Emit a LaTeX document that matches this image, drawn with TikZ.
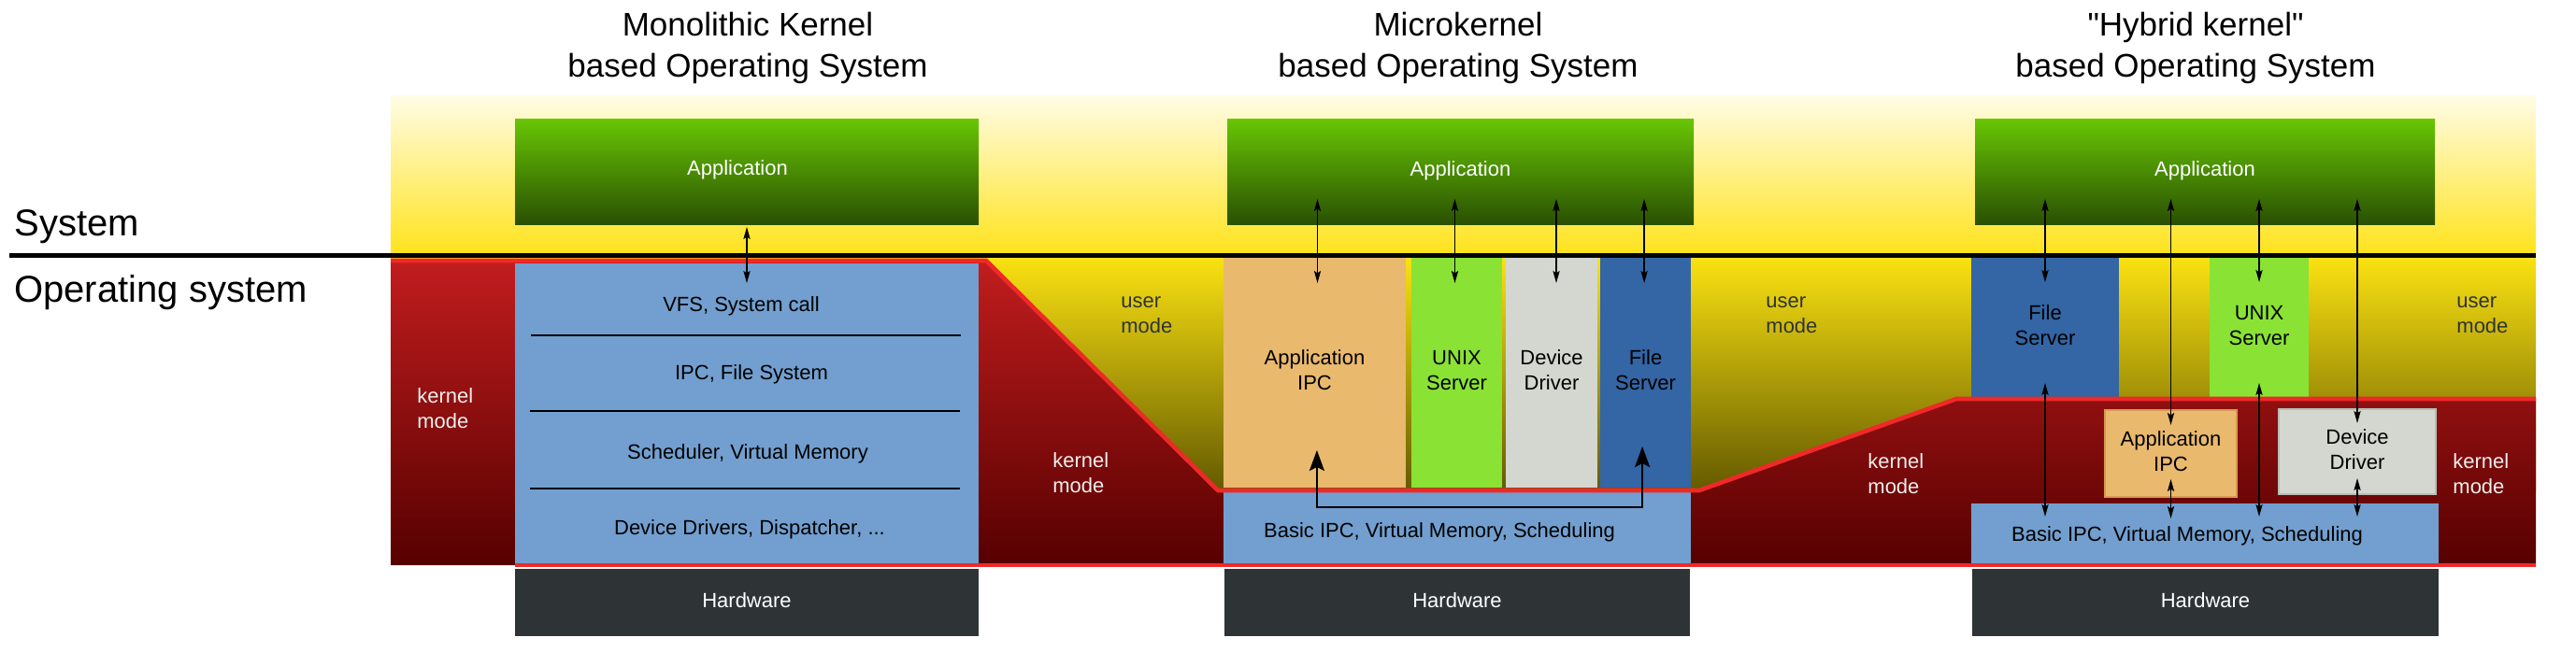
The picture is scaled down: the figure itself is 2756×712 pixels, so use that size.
\documentclass[tikz,border=0pt]{standalone}
\usepackage{fontspec}
\setmainfont{Liberation Sans}[Ligatures=TeXOff]
\usetikzlibrary{arrows.meta,calc}

\definecolor{redline}{HTML}{EF2929}
\definecolor{skyblue}{HTML}{729FCF}
\definecolor{fsblue}{HTML}{3465A4}
\definecolor{limegreen}{HTML}{8AE234}
\definecolor{alugray}{HTML}{D3D7CF}
\definecolor{tanbox}{HTML}{E9B96E}
\definecolor{tanedge}{HTML}{D49A52}
\definecolor{aluedge}{HTML}{BABDB6}
\definecolor{hwgray}{HTML}{2E3436}
\definecolor{ytop}{HTML}{FFFCE6}
\definecolor{ybot}{HTML}{FFE31B}
\definecolor{utop}{HTML}{FCE312}
\definecolor{ubot}{HTML}{645A00}
\definecolor{ktop}{HTML}{C21D1E}
\definecolor{kbot}{HTML}{560000}
\definecolor{gtop}{HTML}{68C604}
\definecolor{gbot}{HTML}{2A5003}
\definecolor{usertext}{HTML}{2E3436}
\definecolor{kerneltext}{HTML}{EEEEEC}

\newcommand\smallf{\fontsize{11}{13.5}\selectfont}
\newcommand\titlef{\fontsize{17.5}{21.75}\selectfont}
\newcommand\bigf{\fontsize{20}{24}\selectfont}

% box: name, x1, y1, x2, y2, style, text
\newcommand\mkbox[7]{\node[box,#6,minimum width={(#4-#2)*0.5pt},minimum height={(#5-#3)*0.5pt}] (#1) at ({(#2+#4)/2},{(#3+#5)/2}) {#7};}

\tikzset{
  box/.style={inner sep=0pt, outer sep=0pt, font=\smallf, align=center},
  appbox/.style={top color=gtop, bottom color=gbot, text=white},
  hwbox/.style={fill=hwgray, text=white},
  lbl/.style={inner sep=0pt, font=\smallf, align=center},
  userlbl/.style={inner sep=0pt, font=\smallf, align=left, anchor=west, text=usertext},
  kernlbl/.style={inner sep=0pt, font=\smallf, align=left, anchor=west, text=kerneltext},
  titlelbl/.style={inner sep=0pt, font=\titlef, align=center},
  biglbl/.style={inner sep=0pt, font=\bigf, anchor=base west},
  arr/.style={line width=0.65pt, {Stealth[length=6.5pt,width=3.6pt,inset=1.2pt]}-{Stealth[length=6.5pt,width=3.6pt,inset=1.2pt]}},
  bigarr/.style={line width=0.9pt, {Stealth[length=11pt,width=8pt,inset=2pt]}-{Stealth[length=11pt,width=8pt,inset=2pt]}},
  sepline/.style={line width=0.9pt},
  redstroke/.style={draw=redline, line width=2.3pt, line join=miter},
}

\begin{document}
\begin{tikzpicture}[x=0.5pt,y=-0.5pt]
\useasboundingbox (0,0) rectangle (2756,712);

% backgrounds
\shade[top color=ytop, bottom color=ybot] (418,102) rectangle (2713,273);
\shade[top color=utop, bottom color=ubot] (418,273) rectangle (2713,525);
\shade[top color=ktop, bottom color=kbot] (418,279) -- (1055,279) -- (1303,525) -- (1818,525) -- (2093,427) -- (2713,427) -- (2713,605) -- (418,605) -- cycle;

% ---------- Monolithic ----------
\mkbox{app1}{551}{127}{1047}{240}{appbox}{}
\node[lbl, text=white] (app1t) at (789,181.6) {\strut Application};
\mkbox{mono}{551}{282}{1047}{605}{fill=skyblue}{}
\draw[sepline] (568,359) -- (1028,359);
\draw[sepline] (567,440) -- (1027,440);
\draw[sepline] (567,523) -- (1027,523);
\node[lbl] (m1) at (793,328) {\strut VFS, System call};
\node[lbl] (m2) at (804,401) {\strut IPC, File System};
\node[lbl] (m3) at (800,486) {\strut Scheduler, Virtual Memory};
\node[lbl] (m4) at (802,567) {\strut Device Drivers, Dispatcher, ...};
\node[kernlbl] (km1) at (446,440) {\strut kernel\\\strut mode};

% ---------- Microkernel ----------
\mkbox{app2}{1313}{127}{1812}{240}{appbox}{\strut Application}
\mkbox{ipc2}{1309}{276}{1504}{522}{fill=tanbox}{\strut Application\\\strut IPC}
\mkbox{unix2}{1510}{276}{1607}{522}{fill=limegreen}{\strut UNIX\\\strut Server}
\mkbox{dd2}{1611}{276}{1709}{522}{fill=alugray}{\strut Device\\\strut Driver}
\mkbox{fs2}{1712}{276}{1809}{522}{fill=fsblue}{\strut File\\\strut Server}
\mkbox{basic2}{1309}{527}{1809}{605}{fill=skyblue}{}
\node[lbl] (basic2t) at (1540,570) {\strut Basic IPC, Virtual Memory, Scheduling};
\node[userlbl] (um2) at (1199,338) {\strut user\\\strut mode};
\node[kernlbl] (km2) at (1126,509) {\strut kernel\\\strut mode};

% ---------- Hybrid ----------
\mkbox{app3}{2113}{127}{2605}{240}{appbox}{\strut Application}
\mkbox{fs3}{2109}{276}{2267}{425}{fill=fsblue}{\strut File\\\strut Server}
\mkbox{unix3}{2364}{276}{2470}{425}{fill=limegreen}{\strut UNIX\\\strut Server}
\mkbox{basic3}{2109}{539}{2609}{605}{fill=skyblue}{}
\node[lbl] (basic3t) at (2340,574) {\strut Basic IPC, Virtual Memory, Scheduling};
\node[userlbl] (um3a) at (1889,338) {\strut user\\\strut mode};
\node[userlbl] (um3b) at (2628,338) {\strut user\\\strut mode};
\node[kernlbl] (km3a) at (1998,509.5) {\strut kernel\\\strut mode};
\node[kernlbl] (km3b) at (2624,509.5) {\strut kernel\\\strut mode};

% red outlines and system line
\draw[redstroke] (418,279) -- (1055,279) -- (1303,525) -- (1818,525) -- (2093,427) -- (2713,427);
\draw[redstroke] (551,605) -- (2713,605);
\draw[line width=2.5pt] (10,273.5) -- (2713,273.5);

% hybrid kernel boxes (drawn after red line)
\mkbox{ipc3}{2252}{439}{2393}{532}{fill=tanbox, draw=tanedge, line width=0.6pt}{\strut Application\\\strut IPC}
\mkbox{dd3}{2438}{438}{2606}{529}{fill=alugray, draw=aluedge, line width=0.6pt}{\strut Device\\\strut Driver}

% hardware
\mkbox{hw1}{551}{609}{1047}{681}{hwbox}{\strut Hardware}
\mkbox{hw2}{1310}{609}{1808}{681}{hwbox}{\strut Hardware}
\mkbox{hw3}{2110}{609}{2609}{681}{hwbox}{\strut Hardware}

% titles
\node[titlelbl] (t1) at (800,51.7) {\strut Monolithic Kernel\\\strut based Operating System};
\node[titlelbl] (t2) at (1560,51.7) {\strut Microkernel\\\strut based Operating System};
\node[titlelbl] (t3) at (2349,51.7) {\strut "Hybrid kernel"\\\strut based Operating System};
\node[biglbl] (sys) at (15,252) {System};
\node[biglbl] (os) at (15,323.5) {Operating system};

% arrows: monolithic
\draw[arr] ([yshift=-1.5pt]app1.south) -- ([yshift=-10.5pt]mono.north);

% arrows: microkernel
\draw[arr] ([yshift=13.5pt,xshift=1.5pt]app2.south -| ipc2.center) -- ([yshift=-13.5pt,xshift=1.5pt]ipc2.north);
\draw[arr] ([yshift=13.5pt,xshift=-1pt]app2.south -| unix2.center) -- ([yshift=-13.5pt,xshift=-1pt]unix2.north);
\draw[arr] ([yshift=13.5pt,xshift=2.5pt]app2.south -| dd2.center) -- ([yshift=-13.5pt,xshift=2.5pt]dd2.north);
\draw[arr] ([yshift=13.5pt,xshift=-0.7pt]app2.south -| fs2.center) -- ([yshift=-13.5pt,xshift=-0.7pt]fs2.north);
\coordinate (ipcbus) at ([yshift=-8pt]basic2.north);
\draw[bigarr] ([yshift=20pt,xshift=1.2pt]ipc2.south) -- ([xshift=1.2pt]ipc2.south |- ipcbus) -| ([yshift=22pt,xshift=-1.7pt]fs2.south);

% arrows: hybrid
\draw[arr] ([yshift=13.5pt]app3.south -| fs3.center) -- ([yshift=-13pt]fs3.north);
\draw[arr] ([yshift=7.5pt]fs3.south) -- ([yshift=-7pt]basic3.north -| fs3.center);
\draw[arr] ([yshift=13.5pt]app3.south -| ipc3.center) -- ([yshift=-8pt]ipc3.north);
\draw[arr] ([yshift=9.5pt]ipc3.south) -- ([yshift=-8pt]basic3.north -| ipc3.center);
\draw[arr] ([yshift=13.5pt]app3.south -| unix3.center) -- ([yshift=-13pt]unix3.north);
\draw[arr] ([yshift=7.5pt]unix3.south) -- ([yshift=-7pt]basic3.north -| unix3.center);
\draw[arr] ([yshift=13.5pt]app3.south -| dd3.center) -- ([yshift=-7.5pt]dd3.north);
\draw[arr] ([yshift=8.5pt]dd3.south) -- ([yshift=-7pt]basic3.north -| dd3.center);
\end{tikzpicture}
\end{document}
